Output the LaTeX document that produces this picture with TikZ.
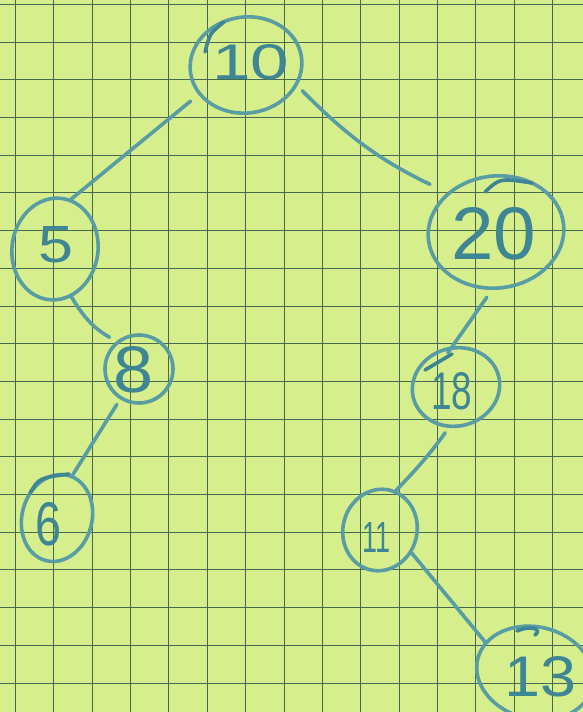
\documentclass[tikz,border=0pt]{standalone}
\usepackage{fontspec}
\usepackage{graphicx}
\setmainfont{Liberation Sans}
\usetikzlibrary{shapes.geometric,calc}
\definecolor{paper}{RGB}{214,238,140}
\definecolor{gridc}{RGB}{70,106,80}
\definecolor{ink}{RGB}{88,156,164}
\definecolor{inkd}{RGB}{62,134,148}
\begin{document}
\begin{tikzpicture}[x=1pt,y=-1pt,
  nodering/.style={ellipse, draw=ink, line width=3.6pt, inner sep=0pt},
  digit/.style={text=inkd, inner sep=0pt, anchor=center},
  edgeline/.style={draw=ink, line width=3.6pt, line cap=round},
  penstroke/.style={draw=inkd, line width=3.6pt, line cap=round},
  gridline/.style={draw=gridc, line width=1.3pt}]
\fill[paper] (0,0) rectangle (583,712);
\useasboundingbox (0,0) rectangle (583,712);
\foreach \k in {0,...,14} {
  \pgfmathsetmacro{\gx}{round(15+38.36*\k)+0.5}
  \draw[gridline] (\gx,0) -- (\gx,712);
}
\foreach \k in {0,...,18} {
  \pgfmathsetmacro{\gy}{round(4+37.7*\k)+0.5}
  \draw[gridline] (0,\gy) -- (583,\gy);
}

% rings
\node[nodering, minimum width=112pt, minimum height=96pt, rotate=8] (n10) at (246,65) {};
\node[nodering, minimum width=86pt, minimum height=102pt, rotate=-8] (n5) at (55,249) {};
\node[nodering, minimum width=136pt, minimum height=112pt, rotate=7] (n20) at (496,232) {};
\node[nodering, minimum width=68pt, minimum height=68pt] (n8) at (139,369) {};
\node[nodering, minimum width=88pt, minimum height=78pt, rotate=15] (n18) at (456,387) {};
\node[nodering, minimum width=70pt, minimum height=88pt, rotate=-15] (n6) at (57,518) {};
\node[nodering, minimum width=74pt, minimum height=82pt, rotate=-15] (n11) at (380,530) {};
\node[nodering, minimum width=118pt, minimum height=92pt, rotate=-14] (n13) at (535,673) {};

% extra pen strokes on rings
\draw[penstroke] ($(n10)+(-41,-13)$) .. controls ($(n10)+(-36,-32)$) .. ($(n10)+(-22,-43)$);
\draw[penstroke] ($(n20)+(-11,-40)$) .. controls ($(n20)+(4,-54)$) .. ($(n20)+(36,-49)$);
\draw[penstroke] ($(n13)+(-18,-42)$) .. controls ($(n13)+(-5,-48)$) and ($(n13)+(8,-44)$) .. ($(n13)+(0,-38)$);
\draw[penstroke] ($(n18)+(-31,-17)$) -- ($(n18)+(-4,-33)$);
\draw[penstroke] ($(n6)+(-27,-25)$) .. controls ($(n6)+(-18,-40)$) .. ($(n6)+(12,-44)$);

% digits
\node[digit] (t10) at (251,62) {\resizebox{77pt}{35pt}{10}};
\node[digit] (t5) at (56,245) {\resizebox{35pt}{36pt}{5}};
\node[digit] (t20) at (494,234) {\resizebox{85pt}{52pt}{20}};
\node[digit] (t8) at (134,370) {\resizebox{40pt}{46pt}{8}};
\node[digit] (t18) at (452,391) {\resizebox{41pt}{37pt}{18}};
\node[digit] (t6) at (49,524) {\resizebox{26pt}{43pt}{6}};
\node[digit] (t11) at (376,537) {\resizebox{28pt}{30pt}{11}};
\node[digit] (t13) at (541,677) {\resizebox{72pt}{40pt}{13}};

% edges
\draw[edgeline, shorten <=10pt] (n10.204) -- (n5.80);
\draw[edgeline, shorten <=7pt, shorten >=19pt] (n10.330) to[bend right=10] (n20.134);
\draw[edgeline, shorten >=8pt] (n5.297) to[bend right=15] (n8.129);
\draw[edgeline, shorten <=6pt] (n8.238) -- (n6.85);
\draw[edgeline, shorten <=9pt, shorten >=-8pt] (n20.259) -- (n18.80);
\draw[edgeline, shorten <=6pt] (n18.245) to[bend left=4] (n11.83);
\draw[edgeline] (n11.339) -- (n13.162);
\end{tikzpicture}
\end{document}
